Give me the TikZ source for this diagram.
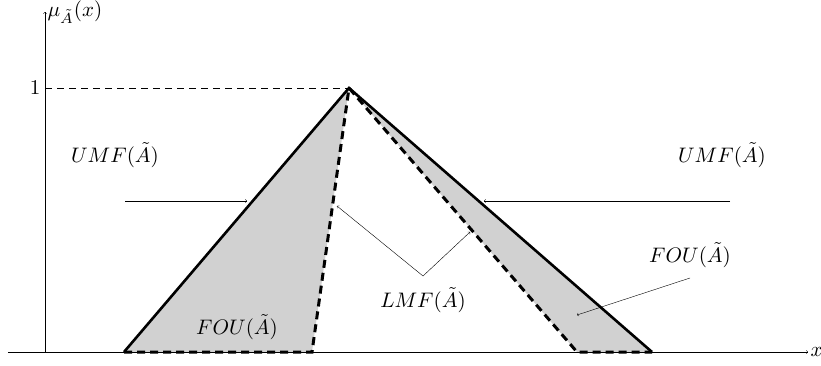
\documentclass[tikz,border=0pt]{standalone}
\usetikzlibrary{positioning}
\tikzset{
  umf/.style={line width=2.6pt, line join=miter},
  lmf/.style={line width=3pt, dash pattern=on 8pt off 5pt},
  fou/.style={fill=black!18},
  lbl/.style={->, thin},
}
\begin{document}
\begin{tikzpicture}[x=1pt, y=1pt, >=to, every node/.style={scale=2.1}]
  \useasboundingbox (-45,-13) rectangle (776,352);
  % punti del triangolo
  \coordinate (O) at (0,0);
  \coordinate (apex) at (304,264);
  \coordinate (uL) at (79,0);
  \coordinate (uR) at (607,0);
  \coordinate (lL) at (267,0);
  \coordinate (lR) at (532,0);

  % FOU
  \fill[fou] (uL) -- (apex) -- (lL) -- cycle;
  \fill[fou] (apex) -- (uR) -- (lR) -- cycle;

  % assi
  \draw[->, thin] (-37,0) -- (763,0) node[right, inner sep=1pt] (xl) {$x$};
  \draw[->, thin] (0,0) -- (0,340) node[right, inner sep=1pt] (mu) {$\mu_{\tilde{A}}(x)$};
  \draw[thin, dash pattern=on 7pt off 5pt] (0,264) node[left, inner sep=2pt] (uno) {$1$} -- (apex);

  % UMF e LMF
  \draw[umf] (uL) -- (apex) -- (uR);
  \draw[lmf] (uL) -- (lL) -- (apex) -- (lR) -- (uR);

  % etichette
  \node (umfL) at (70,197) {$UMF(\tilde{A})$};
  \node (umfR) at (677,197) {$UMF(\tilde{A})$};
  \node (lmf) at (378,52) {$LMF(\tilde{A})$};
  \node (fouL) at (192,25) {$FOU(\tilde{A})$};
  \node (fouR) at (645,97) {$FOU(\tilde{A})$};

  \coordinate (aL) at (80,151);
  \coordinate (aLe) at (202,151);
  \coordinate (aR) at (685,151);
  \coordinate (aRe) at (439,151);
  \coordinate (lm) at (378,76);
  \coordinate (lm1) at (292,146);
  \coordinate (lm2) at (425,120);
  \coordinate (fo) at (645,74);
  \coordinate (foe) at (532,37);

  \draw[lbl] (aL) -- (aLe);
  \draw[lbl] (aR) -- (aRe);
  \draw[lbl] (lm) -- (lm1);
  \draw[lbl] (lm) -- (lm2);
  \draw[lbl] (fo) -- (foe);
\end{tikzpicture}
\end{document}
